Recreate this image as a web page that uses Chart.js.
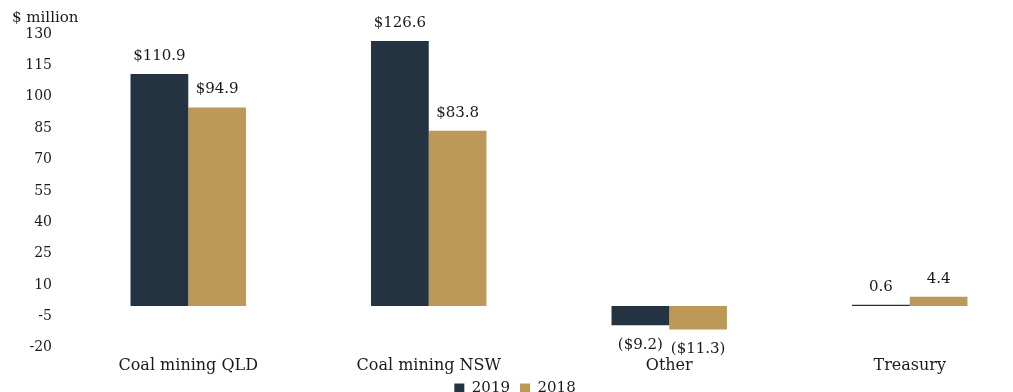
<!DOCTYPE html>
<html>
<head>
<meta charset="utf-8">
<script src="https://cdn.jsdelivr.net/npm/chart.js@4"></script>
<style>
  html, body { margin: 0; padding: 0; background: #fff; overflow: hidden; }
  #wrap { width: 1013px; height: 392px; overflow: hidden; position: relative; }
  canvas { display: block; }
</style>
</head>
<body>
<div id="wrap"><canvas id="chart" width="1030" height="418"></canvas></div>
<script>
const categories = ['Coal mining QLD', 'Coal mining NSW', 'Other', 'Treasury'];
const values2019 = [110.9, 126.6, -9.2, 0.6];
const values2018 = [94.9, 83.8, -11.3, 4.4];
const labels2019 = ['$110.9', '$126.6', '($9.2)', '0.6'];
const labels2018 = ['$94.9', '$83.8', '($11.3)', '4.4'];
const yMin = -20, yMax = 130, yStep = 15;

const SERIF = "'DejaVu Serif', Georgia, serif";
const TEXT = '#1a1a1a';

const valueLabels = {
  id: 'valueLabels',
  afterDatasetsDraw(chart) {
    const ctx = chart.ctx;
    ctx.save();
    ctx.font = '15px ' + SERIF;
    ctx.fillStyle = TEXT;
    ctx.textAlign = 'center';
    ctx.textBaseline = 'middle';
    chart.data.datasets.forEach((ds, i) => {
      const meta = chart.getDatasetMeta(i);
      meta.data.forEach((bar, j) => {
        const v = ds.data[j];
        const y = v >= 0 ? bar.y - 18 : bar.y + 20;
        ctx.fillText(ds.valueLabels[j], bar.x, y);
      });
    });
    // unit caption
    ctx.textAlign = 'left';
    ctx.fillText('$ million', 12, 18);
    ctx.restore();
  }
};

// pull the legend a bit closer to the axis labels
const legendNudge = {
  id: 'legendNudge',
  afterLayout(chart) {
    if (chart.legend) {
      chart.legend.top -= 12;
      chart.legend.bottom -= 12;
    }
  }
};

new Chart(document.getElementById('chart').getContext('2d'), {
  type: 'bar',
  data: {
    labels: categories,
    datasets: [
      { label: '2019', data: values2019, valueLabels: labels2019, backgroundColor: '#233342' },
      { label: '2018', data: values2018, valueLabels: labels2018, backgroundColor: '#bc9956' }
    ]
  },
  options: {
    responsive: false,
    animation: false,
    layout: { padding: { top: 34, left: 0, right: 0, bottom: 0 } },
    datasets: { bar: { categoryPercentage: 0.48, barPercentage: 1.0 } },
    plugins: {
      legend: {
        position: 'bottom',
        labels: {
          font: { family: SERIF, size: 15 },
          color: TEXT,
          boxWidth: 10,
          boxHeight: 10,
          padding: 10
        }
      },
      tooltip: { enabled: false }
    },
    scales: {
      x: {
        grid: { display: false, drawTicks: false },
        border: { display: false },
        ticks: { font: { family: SERIF, size: 16 }, color: TEXT, padding: 8 }
      },
      y: {
        min: yMin,
        max: yMax,
        afterFit: scale => { scale.width = 68; },
        border: { display: false },
        grid: {
          drawTicks: false,
          color: c => c.tick && c.tick.value === 0 ? '#d9d9d9' : 'rgba(0,0,0,0)',
          lineWidth: 1.5
        },
        ticks: { stepSize: yStep, font: { family: SERIF, size: 14 }, color: TEXT, padding: 16 }
      }
    }
  },
  plugins: [valueLabels, legendNudge]
});
</script>
</body>
</html>
